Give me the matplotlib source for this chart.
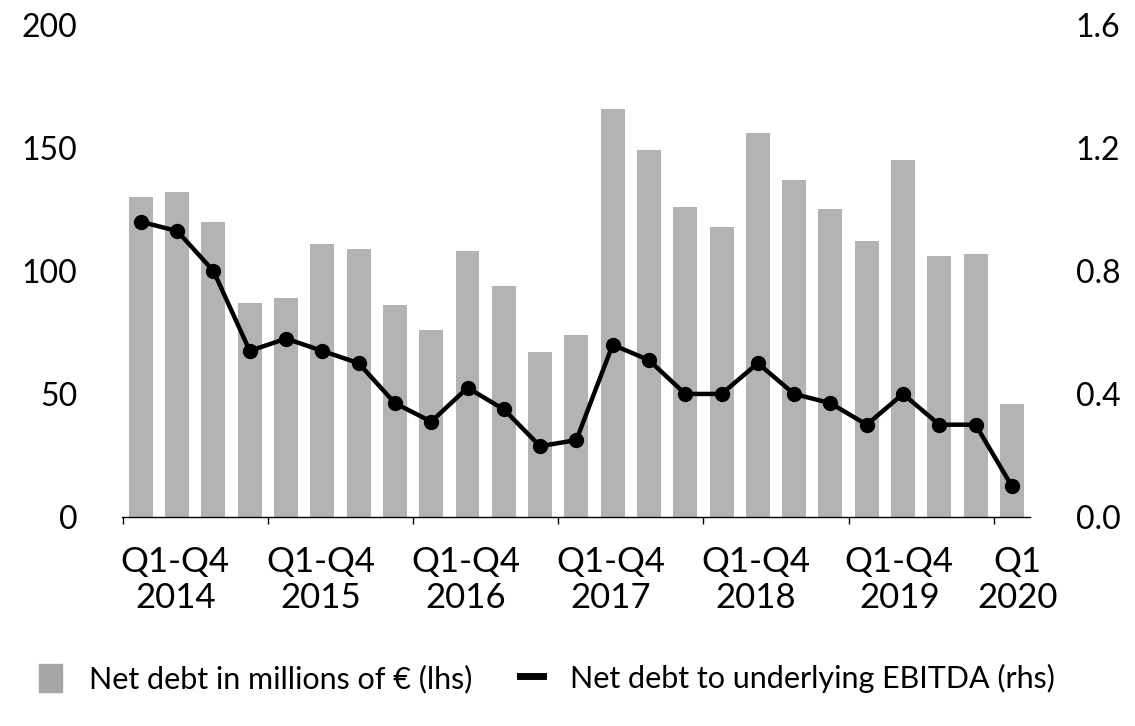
import numpy as np
import matplotlib.pyplot as plt
from matplotlib.patches import Patch
from matplotlib.lines import Line2D

# values
net_debt = [130, 132, 120, 87, 89, 111, 109, 86, 76, 108, 94, 67, 74,
            166, 149, 126, 118, 156, 137, 125, 112, 145, 106, 107, 46]
debt_ebitda = [0.96, 0.93, 0.80, 0.54, 0.58, 0.54, 0.50, 0.37, 0.31, 0.42,
               0.35, 0.23, 0.25, 0.56, 0.51, 0.40, 0.40, 0.50, 0.40, 0.37,
               0.30, 0.40, 0.30, 0.30, 0.10]
period_labels = ['Q1-Q4\n2014', 'Q1-Q4\n2015', 'Q1-Q4\n2016', 'Q1-Q4\n2017',
                 'Q1-Q4\n2018', 'Q1-Q4\n2019', 'Q1\n2020']
label_pos = [0.95, 4.95, 8.95, 12.95, 16.95, 20.9, 24.15]
boundaries = [-0.5, 3.5, 7.5, 11.5, 15.5, 19.5, 23.5]

plt.rcParams['font.family'] = ['Lato', 'DejaVu Sans']

fig = plt.figure(figsize=(11.35, 7.26), dpi=100)
ax = fig.add_axes([0.1075, 0.288, 0.8, 0.6775])
ax2 = ax.twinx()

x = np.arange(len(net_debt))
ax.bar(x, net_debt, width=0.66, color='#b3b3b3')
ax2.plot(x, debt_ebitda, color='black', linewidth=3.2, marker='o', markersize=10)

ax.set_xlim(-0.52, 24.5)
ax.set_ylim(0, 200)
ax2.set_ylim(0, 1.6)
ax.set_yticks([0, 50, 100, 150, 200])
ax2.set_yticks([0, 0.4, 0.8, 1.2, 1.6])
ax2.set_yticklabels(['0.0', '0.4', '0.8', '1.2', '1.6'])

ax.set_xticks(boundaries)
ax.set_xticklabels([])
ax.set_xticks(label_pos, minor=True)
ax.set_xticklabels(period_labels, minor=True, fontsize=25, linespacing=1.15)
ax.tick_params(axis='x', which='major', length=5, width=1, direction='out')
ax.tick_params(axis='x', which='minor', length=0, pad=21)

ax.tick_params(axis='y', length=0, labelsize=23, pad=32)
ax2.tick_params(axis='y', length=0, labelsize=23, pad=33)

for a in (ax, ax2):
    for s in ['top', 'left', 'right', 'bottom']:
        a.spines[s].set_visible(False)
ax.spines['bottom'].set_visible(True)
ax.spines['bottom'].set_linewidth(1)

handles = [Patch(color='#a6a6a6', label='Net debt in millions of € (lhs)'),
           Line2D([0], [0], color='black', linewidth=5, label='Net debt to underlying EBITDA (rhs)')]
fig.legend(handles=handles, loc='center left', bbox_to_anchor=(0.01, 0.065), ncol=2,
           frameon=False, fontsize=22, handlelength=0.75, handleheight=1.0,
           handletextpad=0.9, columnspacing=1.55)

fig.savefig('out.png', dpi=100)
